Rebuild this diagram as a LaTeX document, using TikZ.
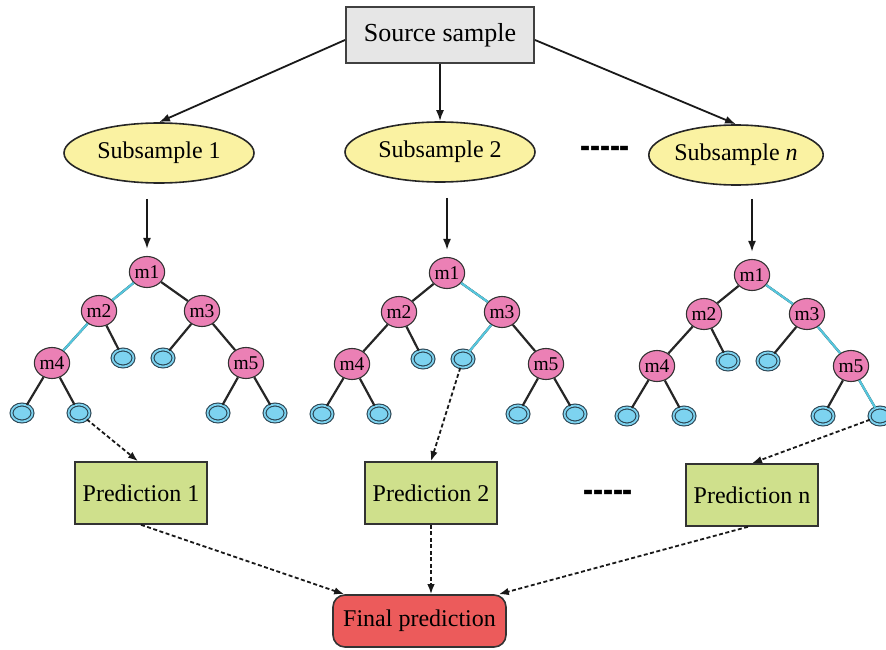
\documentclass[tikz,border=0pt]{standalone}
\usepackage{fontspec}
\setmainfont{Liberation Serif}
\usetikzlibrary{shapes.geometric,arrows.meta}
\definecolor{srcgray}{HTML}{E6E6E6}
\definecolor{subyellow}{HTML}{FAF2A2}
\definecolor{mpink}{HTML}{EB80B5}
\definecolor{leafblue}{HTML}{7DD3F0}
\definecolor{leafdark}{HTML}{2C4654}
\definecolor{hicyan}{HTML}{55C6DD}
\definecolor{predgreen}{HTML}{CFE08C}
\definecolor{finalred}{HTML}{EC5B5B}
\newcommand\mytree[3]{%
 \begin{scope}[shift={(#2,#3)}]
  \node[mnode] (#1m1) at (147,272) {m1};
  \node[mnode] (#1m2) at (99,311) {m2};
  \node[mnode] (#1m3) at (202,311) {m3};
  \node[mnode] (#1m4) at (52,363) {m4};
  \node[mnode] (#1m5) at (246,363) {m5};
  \node[leaf] (#1l2) at (123,358) {};
  \node[leaf] (#1l3) at (163,358) {};
  \node[leaf] (#1l4a) at (22,413) {};
  \node[leaf] (#1l4b) at (79,413) {};
  \node[leaf] (#1l5a) at (218,413) {};
  \node[leaf] (#1l5b) at (275,413) {};
 \end{scope}
 \draw[tedge] (#1m1) -- (#1m2);
 \draw[tedge] (#1m1) -- (#1m3);
 \draw[tedge] (#1m2) -- (#1m4);
 \draw[tedge] (#1m2) -- (#1l2);
 \draw[tedge] (#1m3) -- (#1l3);
 \draw[tedge] (#1m3) -- (#1m5);
 \draw[tedge] (#1m4) -- (#1l4a);
 \draw[tedge] (#1m4) -- (#1l4b);
 \draw[tedge] (#1m5) -- (#1l5a);
 \draw[tedge] (#1m5) -- (#1l5b);
}
\begin{document}
\begin{tikzpicture}[x=1pt,y=-1pt,
  lbl/.style={font=\fontsize{24}{27}\selectfont},
  srcbox/.style={rectangle,draw=black!75,line width=2pt,fill=srcgray,minimum width=188pt,minimum height=56pt,inner sep=0pt,font=\fontsize{26}{29}\selectfont},
  subell/.style={ellipse,draw=black!85,line width=1.6pt,fill=subyellow,minimum height=60pt,inner sep=0pt,lbl},
  mnode/.style={ellipse,draw=black!80,line width=1.1pt,fill=mpink,minimum width=35pt,minimum height=31pt,inner sep=0pt,font=\fontsize{19.5}{22}\selectfont},
  leaf/.style={ellipse,draw=leafdark,double=leafblue,double distance=1.8pt,line width=1.1pt,fill=leafblue,minimum width=21pt,minimum height=17pt,inner sep=0pt},
  tedge/.style={draw=black!85,line width=2.2pt},
  hedge/.style={draw=hicyan,line width=2.2pt},
  predbox/.style={rectangle,draw=black!80,line width=1.6pt,fill=predgreen,minimum width=132pt,minimum height=62pt,inner sep=0pt,lbl},
  finalbox/.style={rectangle,rounded corners=12pt,draw=black!80,line width=1.6pt,fill=finalred,minimum width=173pt,minimum height=52pt,inner sep=0pt,lbl},
  arr/.style={draw=black!90,line width=1.8pt,-{Latex[length=11pt,width=8pt]}},
  darr/.style={draw=black!90,line width=1.8pt,dash pattern=on 4pt off 2.5pt,-{Latex[length=10pt,width=7.5pt]}},
  dots/.style={font=\fontsize{30}{32}\selectfont\bfseries,inner sep=0pt}
]
\useasboundingbox (0,0) rectangle (886,650);

% top
\node[srcbox] (src) at (440,35) {Source sample};
\node[subell,minimum width=190pt] (sub1) at (159,153) {Subsample 1};
\node[subell,minimum width=190pt] (sub2) at (440,152) {Subsample 2};
\node[subell,minimum width=174pt] (subn) at (736,155) {Subsample \textit{n}};
\node[dots] (dotsA) at (605,153) {\scalebox{1}[1.7]{-{}-{}-{}-{}-}};

\draw[arr] ([yshift=-5pt]src.west) -- (sub1.north);
\draw[arr] (src.south) -- (sub2.north);
\draw[arr] ([yshift=-5pt]src.east) -- (subn.north);

% trees
\mytree{a}{0}{0}
\mytree{b}{300}{1}
\mytree{c}{605}{3}

% highlighted paths
\draw[hedge] (am1) -- (am2);
\draw[hedge] (am2) -- (am4);
\draw[hedge] (bm1) -- (bm3);
\draw[hedge] (bm3) -- (bl3);
\draw[hedge] (cm1) -- (cm3);
\draw[hedge] (cm3) -- (cm5);
\draw[hedge] (cm5) -- (cl5b);

% subsample -> tree
\draw[arr,shorten >=7pt] (am1.north |- sub1.south) ++(0,15) -- (am1);
\draw[arr,shorten >=7pt] (bm1.north |- sub2.south) ++(0,15) -- (bm1);
\draw[arr,shorten >=7pt] (cm1.north |- subn.south) ++(0,13) -- (cm1);

% predictions
\node[predbox] (p1) at (141,493) {Prediction 1};
\node[predbox] (p2) at (431,493) {Prediction 2};
\node[predbox] (pn) at (752,495) {Prediction n};
\node[dots] (dotsB) at (608,497) {\scalebox{1}[1.7]{-{}-{}-{}-{}-}};
\node[finalbox] (fin) at (419.5,621) {Final prediction};

\draw[darr] (al4b) -- ([xshift=-3pt]p1.north);
\draw[darr] (bl3) -- (p2.north);
\draw[darr] (cl5b) -- (pn.north);

\draw[darr] (p1.south) -- ([xshift=12pt]fin.north west);
\draw[darr] (p2.south) -- (p2.south |- fin.north);
\draw[darr] ([xshift=-4pt]pn.south) -- ([xshift=-8pt]fin.north east);
\end{tikzpicture}
\end{document}
